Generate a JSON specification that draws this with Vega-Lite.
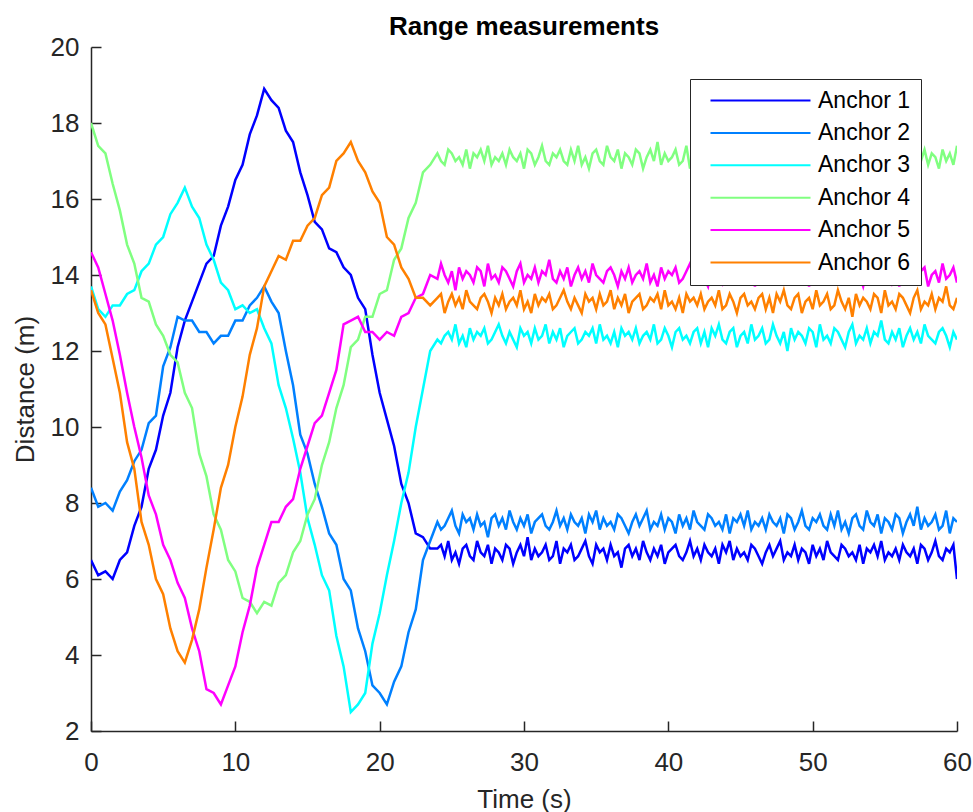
{
"$schema":"https://vega.github.io/schema/vega-lite/v6.json",
"width":866,"height":684,
"autosize":{"type":"none"},
"padding":{"left":91,"top":47,"right":16,"bottom":81},
"background":"white",
"title":{"text":"Range measurements","fontSize":26,"fontWeight":"bold","font":"Liberation Sans","color":"#000000","anchor":"middle","offset":0,"dy":27,"baseline":"alphabetic"},
"data":{"values":[
{"t":0,"A1":6.5,"A2":8.4,"A3":13.7,"A4":18.0,"A5":14.6,"A6":13.6},
{"t":0.5,"A1":6.1,"A2":7.9,"A3":13.1,"A4":17.4,"A5":14.2,"A6":13.0},
{"t":1,"A1":6.2,"A2":8.0,"A3":12.9,"A4":17.2,"A5":13.5,"A6":12.7},
{"t":1.5,"A1":6.0,"A2":7.8,"A3":13.2,"A4":16.4,"A5":12.8,"A6":11.8},
{"t":2,"A1":6.5,"A2":8.3,"A3":13.2,"A4":15.7,"A5":11.9,"A6":10.9},
{"t":2.5,"A1":6.7,"A2":8.6,"A3":13.5,"A4":14.8,"A5":10.9,"A6":9.6},
{"t":3,"A1":7.4,"A2":9.1,"A3":13.6,"A4":14.3,"A5":10.0,"A6":8.9},
{"t":3.5,"A1":7.9,"A2":9.4,"A3":14.1,"A4":13.4,"A5":9.2,"A6":7.5},
{"t":4,"A1":8.9,"A2":10.1,"A3":14.3,"A4":13.3,"A5":8.2,"A6":6.9},
{"t":4.5,"A1":9.4,"A2":10.3,"A3":14.8,"A4":12.7,"A5":7.7,"A6":6.0},
{"t":5,"A1":10.3,"A2":11.6,"A3":15.0,"A4":12.4,"A5":6.9,"A6":5.6},
{"t":5.5,"A1":10.9,"A2":12.1,"A3":15.6,"A4":11.9,"A5":6.5,"A6":4.7},
{"t":6,"A1":12.1,"A2":12.9,"A3":15.9,"A4":11.7,"A5":5.9,"A6":4.1},
{"t":6.5,"A1":12.8,"A2":12.8,"A3":16.3,"A4":10.9,"A5":5.5,"A6":3.8},
{"t":7,"A1":13.3,"A2":12.8,"A3":15.8,"A4":10.5,"A5":4.7,"A6":4.4},
{"t":7.5,"A1":13.8,"A2":12.5,"A3":15.5,"A4":9.3,"A5":4.1,"A6":5.2},
{"t":8,"A1":14.3,"A2":12.5,"A3":14.8,"A4":8.7,"A5":3.1,"A6":6.3},
{"t":8.5,"A1":14.5,"A2":12.2,"A3":14.4,"A4":7.7,"A5":3.0,"A6":7.3},
{"t":9,"A1":15.3,"A2":12.4,"A3":13.8,"A4":7.3,"A5":2.7,"A6":8.4},
{"t":9.5,"A1":15.8,"A2":12.4,"A3":13.6,"A4":6.5,"A5":3.2,"A6":9.0},
{"t":10,"A1":16.5,"A2":12.8,"A3":13.1,"A4":6.2,"A5":3.7,"A6":10.0},
{"t":10.5,"A1":16.9,"A2":12.8,"A3":13.2,"A4":5.5,"A5":4.6,"A6":10.8},
{"t":11,"A1":17.7,"A2":13.2,"A3":13.0,"A4":5.4,"A5":5.3,"A6":11.9},
{"t":11.5,"A1":18.2,"A2":13.4,"A3":13.1,"A4":5.1,"A5":6.3,"A6":12.6},
{"t":12,"A1":18.9,"A2":13.7,"A3":12.6,"A4":5.4,"A5":6.9,"A6":13.7},
{"t":12.5,"A1":18.6,"A2":13.3,"A3":12.2,"A4":5.3,"A5":7.5,"A6":14.1},
{"t":13,"A1":18.4,"A2":13.0,"A3":11.1,"A4":5.9,"A5":7.5,"A6":14.5},
{"t":13.5,"A1":17.8,"A2":12.0,"A3":10.5,"A4":6.1,"A5":7.9,"A6":14.4},
{"t":14,"A1":17.5,"A2":11.1,"A3":9.7,"A4":6.7,"A5":8.1,"A6":14.9},
{"t":14.5,"A1":16.7,"A2":9.8,"A3":8.8,"A4":7.0,"A5":8.9,"A6":14.9},
{"t":15,"A1":16.1,"A2":9.3,"A3":7.6,"A4":7.7,"A5":9.5,"A6":15.3},
{"t":15.5,"A1":15.4,"A2":8.5,"A3":6.9,"A4":8.1,"A5":10.1,"A6":15.5},
{"t":16,"A1":15.2,"A2":7.9,"A3":6.1,"A4":9.0,"A5":10.3,"A6":16.1},
{"t":16.5,"A1":14.7,"A2":7.2,"A3":5.7,"A4":9.6,"A5":10.9,"A6":16.3},
{"t":17,"A1":14.6,"A2":6.9,"A3":4.5,"A4":10.5,"A5":11.5,"A6":17.0},
{"t":17.5,"A1":14.2,"A2":6.0,"A3":3.7,"A4":11.1,"A5":12.7,"A6":17.2},
{"t":18,"A1":14.0,"A2":5.7,"A3":2.5,"A4":12.1,"A5":12.8,"A6":17.5},
{"t":18.5,"A1":13.4,"A2":4.7,"A3":2.7,"A4":12.3,"A5":12.9,"A6":17.0},
{"t":19,"A1":13.1,"A2":4.1,"A3":3.0,"A4":12.9,"A5":12.5,"A6":16.7},
{"t":19.5,"A1":11.9,"A2":3.2,"A3":4.3,"A4":12.9,"A5":12.5,"A6":16.2},
{"t":20,"A1":10.9,"A2":3.0,"A3":5.1,"A4":13.5,"A5":12.3,"A6":15.9},
{"t":20.5,"A1":10.2,"A2":2.7,"A3":6.1,"A4":13.6,"A5":12.5,"A6":15.0},
{"t":21,"A1":9.5,"A2":3.3,"A3":7.0,"A4":14.4,"A5":12.4,"A6":14.8},
{"t":21.5,"A1":8.5,"A2":3.7,"A3":8.0,"A4":14.7,"A5":12.9,"A6":14.2},
{"t":22,"A1":8.0,"A2":4.6,"A3":8.8,"A4":15.5,"A5":13.0,"A6":13.9},
{"t":22.5,"A1":7.2,"A2":5.2,"A3":10.0,"A4":15.9,"A5":13.4,"A6":13.4},
{"t":23,"A1":7.1,"A2":6.5,"A3":11.0,"A4":16.7,"A5":13.5,"A6":13.4},
{"t":23.5,"A1":6.8,"A2":7.0,"A3":12.0,"A4":16.9,"A5":14.0,"A6":13.2},
{"t":24,"A1":6.8,"A2":7.5,"A3":12.3,"A4":17.2,"A5":13.9,"A6":13.4},
{"t":24.25,"A1":6.9,"A2":7.3,"A3":12.2,"A4":17.0,"A5":14.3,"A6":13.5},
{"t":24.5,"A1":6.6,"A2":7.4,"A3":12.4,"A4":16.9,"A5":14.0,"A6":13.0},
{"t":24.75,"A1":7.0,"A2":7.6,"A3":12.5,"A4":17.3,"A5":13.8,"A6":13.3},
{"t":25,"A1":6.5,"A2":7.8,"A3":12.3,"A4":17.2,"A5":14.1,"A6":13.5},
{"t":25.25,"A1":6.7,"A2":7.4,"A3":12.7,"A4":17.0,"A5":13.6,"A6":13.2},
{"t":25.5,"A1":6.4,"A2":7.2,"A3":12.2,"A4":17.1,"A5":14.2,"A6":13.4},
{"t":25.75,"A1":6.8,"A2":7.7,"A3":12.4,"A4":16.9,"A5":13.9,"A6":13.1},
{"t":26,"A1":6.9,"A2":7.5,"A3":12.1,"A4":17.3,"A5":14.1,"A6":13.6},
{"t":26.25,"A1":6.6,"A2":7.6,"A3":12.6,"A4":16.8,"A5":14.0,"A6":13.3},
{"t":26.5,"A1":6.5,"A2":7.3,"A3":12.3,"A4":17.2,"A5":13.8,"A6":13.2},
{"t":26.75,"A1":7.0,"A2":7.7,"A3":12.5,"A4":17.1,"A5":14.2,"A6":13.1},
{"t":27,"A1":6.7,"A2":7.4,"A3":12.4,"A4":17.3,"A5":14.1,"A6":13.4},
{"t":27.25,"A1":6.6,"A2":7.5,"A3":12.6,"A4":17.0,"A5":13.7,"A6":13.5},
{"t":27.5,"A1":6.9,"A2":7.1,"A3":12.2,"A4":17.4,"A5":14.3,"A6":13.3},
{"t":27.75,"A1":6.4,"A2":7.6,"A3":12.3,"A4":16.9,"A5":13.9,"A6":13.0},
{"t":28,"A1":6.8,"A2":7.7,"A3":12.5,"A4":17.1,"A5":14.0,"A6":13.4},
{"t":28.25,"A1":6.7,"A2":7.4,"A3":12.7,"A4":17.0,"A5":13.8,"A6":13.2},
{"t":28.5,"A1":6.5,"A2":7.6,"A3":12.4,"A4":17.2,"A5":14.2,"A6":13.5},
{"t":28.75,"A1":6.9,"A2":7.3,"A3":12.2,"A4":16.9,"A5":14.1,"A6":13.1},
{"t":29,"A1":6.8,"A2":7.8,"A3":12.5,"A4":17.3,"A5":13.9,"A6":13.3},
{"t":29.25,"A1":6.4,"A2":7.5,"A3":12.3,"A4":17.1,"A5":13.7,"A6":13.4},
{"t":29.5,"A1":6.7,"A2":7.3,"A3":12.1,"A4":17.0,"A5":14.1,"A6":13.2},
{"t":29.75,"A1":6.9,"A2":7.6,"A3":12.6,"A4":17.2,"A5":14.3,"A6":13.6},
{"t":30,"A1":6.6,"A2":7.4,"A3":12.4,"A4":16.8,"A5":13.8,"A6":13.1},
{"t":30.25,"A1":7.1,"A2":7.7,"A3":12.5,"A4":17.3,"A5":14.0,"A6":13.3},
{"t":30.5,"A1":6.5,"A2":7.2,"A3":12.2,"A4":17.2,"A5":13.9,"A6":13.0},
{"t":30.75,"A1":6.8,"A2":7.5,"A3":12.6,"A4":16.9,"A5":14.2,"A6":13.5},
{"t":31,"A1":6.6,"A2":7.6,"A3":12.3,"A4":17.1,"A5":13.8,"A6":13.2},
{"t":31.25,"A1":6.7,"A2":7.7,"A3":12.4,"A4":17.4,"A5":14.1,"A6":13.4},
{"t":31.5,"A1":6.9,"A2":7.4,"A3":12.7,"A4":17.0,"A5":14.0,"A6":13.3},
{"t":31.75,"A1":6.5,"A2":7.3,"A3":12.2,"A4":16.9,"A5":14.4,"A6":13.5},
{"t":32,"A1":6.6,"A2":7.5,"A3":12.5,"A4":17.2,"A5":13.9,"A6":13.1},
{"t":32.25,"A1":7.0,"A2":7.8,"A3":12.3,"A4":17.1,"A5":13.8,"A6":13.2},
{"t":32.5,"A1":6.4,"A2":7.4,"A3":12.6,"A4":17.3,"A5":14.1,"A6":13.4},
{"t":32.75,"A1":6.8,"A2":7.6,"A3":12.1,"A4":17.0,"A5":13.9,"A6":13.6},
{"t":33,"A1":6.7,"A2":7.3,"A3":12.4,"A4":16.9,"A5":14.2,"A6":13.3},
{"t":33.25,"A1":6.9,"A2":7.7,"A3":12.5,"A4":17.3,"A5":13.7,"A6":13.1},
{"t":33.5,"A1":6.5,"A2":7.5,"A3":12.6,"A4":17.0,"A5":14.0,"A6":13.4},
{"t":33.75,"A1":6.6,"A2":7.4,"A3":12.2,"A4":17.4,"A5":14.2,"A6":13.2},
{"t":34,"A1":6.8,"A2":7.6,"A3":12.3,"A4":16.9,"A5":13.9,"A6":13.0},
{"t":34.25,"A1":7.0,"A2":7.2,"A3":12.5,"A4":17.1,"A5":14.1,"A6":13.5},
{"t":34.5,"A1":6.6,"A2":7.7,"A3":12.4,"A4":16.8,"A5":13.8,"A6":13.3},
{"t":34.75,"A1":6.4,"A2":7.5,"A3":12.6,"A4":17.2,"A5":14.3,"A6":13.4},
{"t":35,"A1":6.9,"A2":7.8,"A3":12.2,"A4":17.3,"A5":14.0,"A6":13.1},
{"t":35.25,"A1":6.7,"A2":7.3,"A3":12.7,"A4":17.0,"A5":13.9,"A6":13.5},
{"t":35.5,"A1":6.8,"A2":7.6,"A3":12.3,"A4":16.9,"A5":13.8,"A6":13.2},
{"t":35.75,"A1":6.5,"A2":7.4,"A3":12.4,"A4":17.4,"A5":14.1,"A6":13.3},
{"t":36,"A1":6.9,"A2":7.5,"A3":12.2,"A4":17.1,"A5":14.2,"A6":13.6},
{"t":36.25,"A1":6.6,"A2":7.3,"A3":12.5,"A4":17.0,"A5":14.0,"A6":13.1},
{"t":36.5,"A1":6.7,"A2":7.7,"A3":12.1,"A4":17.3,"A5":13.7,"A6":13.4},
{"t":36.75,"A1":6.3,"A2":7.6,"A3":12.6,"A4":16.8,"A5":14.1,"A6":13.2},
{"t":37,"A1":6.8,"A2":7.4,"A3":12.4,"A4":17.2,"A5":13.9,"A6":13.5},
{"t":37.25,"A1":6.9,"A2":7.2,"A3":12.5,"A4":17.1,"A5":14.2,"A6":13.0},
{"t":37.5,"A1":6.6,"A2":7.5,"A3":12.3,"A4":16.9,"A5":13.8,"A6":13.3},
{"t":37.75,"A1":6.8,"A2":7.7,"A3":12.6,"A4":17.3,"A5":14.0,"A6":13.4},
{"t":38,"A1":6.5,"A2":7.4,"A3":12.2,"A4":17.2,"A5":14.1,"A6":13.5},
{"t":38.25,"A1":7.0,"A2":7.6,"A3":12.4,"A4":16.8,"A5":13.9,"A6":13.1},
{"t":38.5,"A1":6.7,"A2":7.8,"A3":12.5,"A4":17.1,"A5":14.3,"A6":13.2},
{"t":38.75,"A1":6.5,"A2":7.3,"A3":12.3,"A4":17.3,"A5":13.8,"A6":13.4},
{"t":39,"A1":6.8,"A2":7.5,"A3":12.7,"A4":17.0,"A5":14.0,"A6":13.3},
{"t":39.25,"A1":6.6,"A2":7.4,"A3":12.2,"A4":17.5,"A5":13.7,"A6":13.5},
{"t":39.5,"A1":6.9,"A2":7.7,"A3":12.3,"A4":16.9,"A5":14.2,"A6":13.1},
{"t":39.75,"A1":6.4,"A2":7.3,"A3":12.6,"A4":17.2,"A5":13.9,"A6":13.6},
{"t":40,"A1":6.7,"A2":7.6,"A3":12.4,"A4":17.0,"A5":14.1,"A6":13.2},
{"t":40.25,"A1":6.8,"A2":7.5,"A3":12.1,"A4":17.1,"A5":14.0,"A6":13.3},
{"t":40.5,"A1":6.9,"A2":7.2,"A3":12.5,"A4":17.3,"A5":14.2,"A6":13.1},
{"t":40.75,"A1":6.6,"A2":7.7,"A3":12.6,"A4":16.9,"A5":13.8,"A6":13.4},
{"t":41,"A1":6.5,"A2":7.4,"A3":12.3,"A4":17.0,"A5":13.9,"A6":13.0},
{"t":41.25,"A1":6.7,"A2":7.6,"A3":12.4,"A4":17.4,"A5":14.1,"A6":13.5},
{"t":41.5,"A1":7.0,"A2":7.3,"A3":12.2,"A4":16.8,"A5":14.3,"A6":13.3},
{"t":41.75,"A1":6.6,"A2":7.8,"A3":12.5,"A4":17.2,"A5":14.0,"A6":13.4},
{"t":42,"A1":6.8,"A2":7.5,"A3":12.6,"A4":17.1,"A5":13.8,"A6":13.2},
{"t":42.25,"A1":6.5,"A2":7.4,"A3":12.2,"A4":17.3,"A5":14.1,"A6":13.5},
{"t":42.5,"A1":6.9,"A2":7.3,"A3":12.5,"A4":16.9,"A5":13.9,"A6":13.1},
{"t":42.75,"A1":6.7,"A2":7.7,"A3":12.1,"A4":17.0,"A5":13.7,"A6":13.3},
{"t":43,"A1":6.6,"A2":7.6,"A3":12.6,"A4":17.2,"A5":14.2,"A6":13.4},
{"t":43.25,"A1":6.8,"A2":7.4,"A3":12.4,"A4":17.4,"A5":14.0,"A6":13.2},
{"t":43.5,"A1":6.4,"A2":7.5,"A3":12.7,"A4":17.0,"A5":14.1,"A6":13.6},
{"t":43.75,"A1":6.9,"A2":7.3,"A3":12.3,"A4":16.8,"A5":13.8,"A6":13.1},
{"t":44,"A1":6.7,"A2":7.7,"A3":12.2,"A4":17.3,"A5":14.2,"A6":13.2},
{"t":44.25,"A1":7.0,"A2":7.2,"A3":12.5,"A4":17.1,"A5":13.9,"A6":13.5},
{"t":44.5,"A1":6.5,"A2":7.6,"A3":12.6,"A4":17.2,"A5":14.0,"A6":13.3},
{"t":44.75,"A1":6.8,"A2":7.5,"A3":12.1,"A4":16.9,"A5":14.3,"A6":13.0},
{"t":45,"A1":6.6,"A2":7.7,"A3":12.4,"A4":17.3,"A5":13.8,"A6":13.4},
{"t":45.25,"A1":6.7,"A2":7.4,"A3":12.5,"A4":17.0,"A5":14.1,"A6":13.5},
{"t":45.5,"A1":6.5,"A2":7.8,"A3":12.2,"A4":17.1,"A5":13.9,"A6":13.2},
{"t":45.75,"A1":6.9,"A2":7.3,"A3":12.7,"A4":16.7,"A5":14.2,"A6":13.3},
{"t":46,"A1":6.8,"A2":7.5,"A3":12.3,"A4":17.2,"A5":13.7,"A6":13.1},
{"t":46.25,"A1":6.6,"A2":7.4,"A3":12.4,"A4":17.3,"A5":14.0,"A6":13.4},
{"t":46.5,"A1":6.4,"A2":7.6,"A3":12.6,"A4":17.0,"A5":14.1,"A6":13.5},
{"t":46.75,"A1":6.7,"A2":7.3,"A3":12.2,"A4":17.2,"A5":14.2,"A6":13.1},
{"t":47,"A1":6.9,"A2":7.7,"A3":12.3,"A4":16.9,"A5":13.8,"A6":13.4},
{"t":47.25,"A1":6.6,"A2":7.5,"A3":12.7,"A4":17.4,"A5":13.9,"A6":13.0},
{"t":47.5,"A1":6.8,"A2":7.4,"A3":12.4,"A4":17.1,"A5":14.1,"A6":13.5},
{"t":47.75,"A1":7.0,"A2":7.6,"A3":12.2,"A4":16.9,"A5":14.0,"A6":13.3},
{"t":48,"A1":6.5,"A2":7.2,"A3":12.5,"A4":17.2,"A5":14.2,"A6":13.6},
{"t":48.25,"A1":6.7,"A2":7.7,"A3":12.0,"A4":17.0,"A5":13.8,"A6":13.2},
{"t":48.5,"A1":6.6,"A2":7.6,"A3":12.6,"A4":17.3,"A5":14.3,"A6":13.1},
{"t":48.75,"A1":6.9,"A2":7.3,"A3":12.3,"A4":16.8,"A5":13.9,"A6":13.4},
{"t":49,"A1":6.5,"A2":7.5,"A3":12.5,"A4":17.1,"A5":14.0,"A6":13.5},
{"t":49.25,"A1":6.8,"A2":7.8,"A3":12.4,"A4":17.2,"A5":13.8,"A6":13.0},
{"t":49.5,"A1":6.7,"A2":7.4,"A3":12.2,"A4":17.3,"A5":14.1,"A6":13.3},
{"t":49.75,"A1":6.4,"A2":7.3,"A3":12.6,"A4":17.0,"A5":13.7,"A6":13.4},
{"t":50,"A1":6.9,"A2":7.6,"A3":12.5,"A4":16.9,"A5":14.2,"A6":13.1},
{"t":50.25,"A1":6.6,"A2":7.5,"A3":12.1,"A4":17.1,"A5":14.0,"A6":13.6},
{"t":50.5,"A1":6.8,"A2":7.7,"A3":12.7,"A4":17.4,"A5":14.1,"A6":13.2},
{"t":50.75,"A1":6.5,"A2":7.4,"A3":12.3,"A4":17.0,"A5":13.9,"A6":13.3},
{"t":51,"A1":7.0,"A2":7.3,"A3":12.4,"A4":17.2,"A5":14.2,"A6":13.5},
{"t":51.25,"A1":6.7,"A2":7.7,"A3":12.2,"A4":16.9,"A5":13.8,"A6":13.1},
{"t":51.5,"A1":6.6,"A2":7.4,"A3":12.6,"A4":17.3,"A5":14.0,"A6":13.2},
{"t":51.75,"A1":6.5,"A2":7.8,"A3":12.5,"A4":17.1,"A5":14.1,"A6":13.6},
{"t":52,"A1":6.9,"A2":7.3,"A3":12.3,"A4":17.0,"A5":13.9,"A6":13.3},
{"t":52.25,"A1":6.8,"A2":7.5,"A3":12.1,"A4":17.2,"A5":14.3,"A6":13.1},
{"t":52.5,"A1":6.6,"A2":7.2,"A3":12.5,"A4":16.8,"A5":13.8,"A6":13.4},
{"t":52.75,"A1":6.7,"A2":7.6,"A3":12.7,"A4":17.3,"A5":13.9,"A6":12.9},
{"t":53,"A1":6.5,"A2":7.7,"A3":12.2,"A4":17.1,"A5":14.2,"A6":13.5},
{"t":53.25,"A1":6.9,"A2":7.4,"A3":12.4,"A4":17.4,"A5":14.0,"A6":13.2},
{"t":53.5,"A1":6.4,"A2":7.3,"A3":12.3,"A4":16.9,"A5":13.7,"A6":13.4},
{"t":53.75,"A1":6.8,"A2":7.8,"A3":12.6,"A4":17.2,"A5":14.1,"A6":13.3},
{"t":54,"A1":6.7,"A2":7.5,"A3":12.2,"A4":17.0,"A5":14.2,"A6":13.1},
{"t":54.25,"A1":6.9,"A2":7.4,"A3":12.5,"A4":17.1,"A5":13.9,"A6":13.5},
{"t":54.5,"A1":6.6,"A2":7.7,"A3":12.4,"A4":16.9,"A5":14.0,"A6":13.4},
{"t":54.75,"A1":7.0,"A2":7.2,"A3":12.8,"A4":17.3,"A5":13.8,"A6":13.0},
{"t":55,"A1":6.5,"A2":7.6,"A3":12.3,"A4":17.2,"A5":14.1,"A6":13.6},
{"t":55.25,"A1":6.7,"A2":7.5,"A3":12.2,"A4":17.0,"A5":14.2,"A6":13.2},
{"t":55.5,"A1":6.6,"A2":7.3,"A3":12.5,"A4":16.8,"A5":13.8,"A6":13.3},
{"t":55.75,"A1":6.8,"A2":7.7,"A3":12.3,"A4":17.1,"A5":14.1,"A6":13.1},
{"t":56,"A1":6.5,"A2":7.6,"A3":12.6,"A4":17.3,"A5":13.7,"A6":13.5},
{"t":56.25,"A1":6.9,"A2":7.2,"A3":12.1,"A4":17.0,"A5":14.2,"A6":13.4},
{"t":56.5,"A1":6.7,"A2":7.5,"A3":12.4,"A4":17.2,"A5":14.0,"A6":13.2},
{"t":56.75,"A1":6.6,"A2":7.7,"A3":12.6,"A4":17.4,"A5":14.3,"A6":13.0},
{"t":57,"A1":6.8,"A2":7.4,"A3":12.3,"A4":16.9,"A5":13.9,"A6":13.4},
{"t":57.25,"A1":6.4,"A2":7.9,"A3":12.5,"A4":17.1,"A5":13.8,"A6":13.6},
{"t":57.5,"A1":6.9,"A2":7.3,"A3":12.2,"A4":17.0,"A5":14.1,"A6":13.1},
{"t":57.75,"A1":6.8,"A2":7.6,"A3":12.7,"A4":17.3,"A5":14.2,"A6":13.3},
{"t":58,"A1":6.5,"A2":7.4,"A3":12.4,"A4":16.9,"A5":13.7,"A6":13.2},
{"t":58.25,"A1":6.7,"A2":7.5,"A3":12.3,"A4":17.2,"A5":14.0,"A6":13.5},
{"t":58.5,"A1":7.0,"A2":7.7,"A3":12.2,"A4":17.1,"A5":14.1,"A6":13.1},
{"t":58.75,"A1":6.6,"A2":7.3,"A3":12.5,"A4":16.8,"A5":13.8,"A6":13.4},
{"t":59,"A1":6.5,"A2":7.4,"A3":12.6,"A4":17.3,"A5":14.3,"A6":13.3},
{"t":59.25,"A1":6.8,"A2":7.8,"A3":12.4,"A4":17.0,"A5":13.9,"A6":13.7},
{"t":59.5,"A1":6.7,"A2":7.2,"A3":12.1,"A4":17.2,"A5":14.0,"A6":13.2},
{"t":59.75,"A1":6.9,"A2":7.6,"A3":12.5,"A4":16.9,"A5":14.2,"A6":13.1},
{"t":60,"A1":6.0,"A2":7.5,"A3":12.3,"A4":17.4,"A5":13.8,"A6":13.4}
]},
"transform":[{"fold":["A1","A2","A3","A4","A5","A6"],"as":["series","d"]}],
"mark":{"type":"line","strokeWidth":2.5,"clip":true},
"encoding":{
"x":{"field":"t","type":"quantitative","scale":{"domain":[0,60],"nice":false,"zero":false},
"axis":{"values":[0,10,20,30,40,50,60],"title":"Time (s)","grid":false,"domainColor":"#262626","domainWidth":1.5,"tickColor":"#262626","tickWidth":1.5,"tickSize":-10,"labelFontSize":26,"labelColor":"#262626","labelFont":"Liberation Sans","labelPadding":49,"labelBaseline":"alphabetic","labelFlush":false,"labelOverlap":false,"titleFont":"Liberation Sans","titleFontSize":26,"titleFontWeight":"normal","titleColor":"#262626","titleY":76,"titleBaseline":"alphabetic"}},
"y":{"field":"d","type":"quantitative","scale":{"domain":[2,20],"nice":false,"zero":false},
"axis":{"values":[2,4,6,8,10,12,14,16,18,20],"title":"Distance (m)","grid":false,"domainColor":"#262626","domainWidth":1.5,"tickColor":"#262626","tickWidth":1.5,"tickSize":-10,"labelFontSize":26,"labelColor":"#262626","labelFont":"Liberation Sans","labelPadding":22,"labelFlush":false,"labelOverlap":false,"titleFont":"Liberation Sans","titleFontSize":26,"titleFontWeight":"normal","titleColor":"#262626","titleX":-58,"titleY":342,"titleBaseline":"alphabetic","titleAlign":"center","titleAngle":-90}},
"color":{"field":"series","type":"nominal","scale":{"domain":["A1","A2","A3","A4","A5","A6"],"range":["#0000ff","#0080ff","#00ffff","#80ff80","#ff00ff","#ff8000"]},
"legend":{"orient":"none","legendX":599,"legendY":32,"title":null,"strokeColor":"#262626","fillColor":"white","padding":10,"symbolType":"M-5,0H5","symbolSize":400,"symbolStrokeWidth":2,"symbolOffset":49,"labelOffset":46,"labelFontSize":23,"labelFont":"Liberation Sans","labelColor":"#000000","labelLimit":400,"rowPadding":8.4,"labelExpr":"'Anchor ' + slice(datum.label, 1)"}}
},
"config":{"view":{"stroke":null}}
}
